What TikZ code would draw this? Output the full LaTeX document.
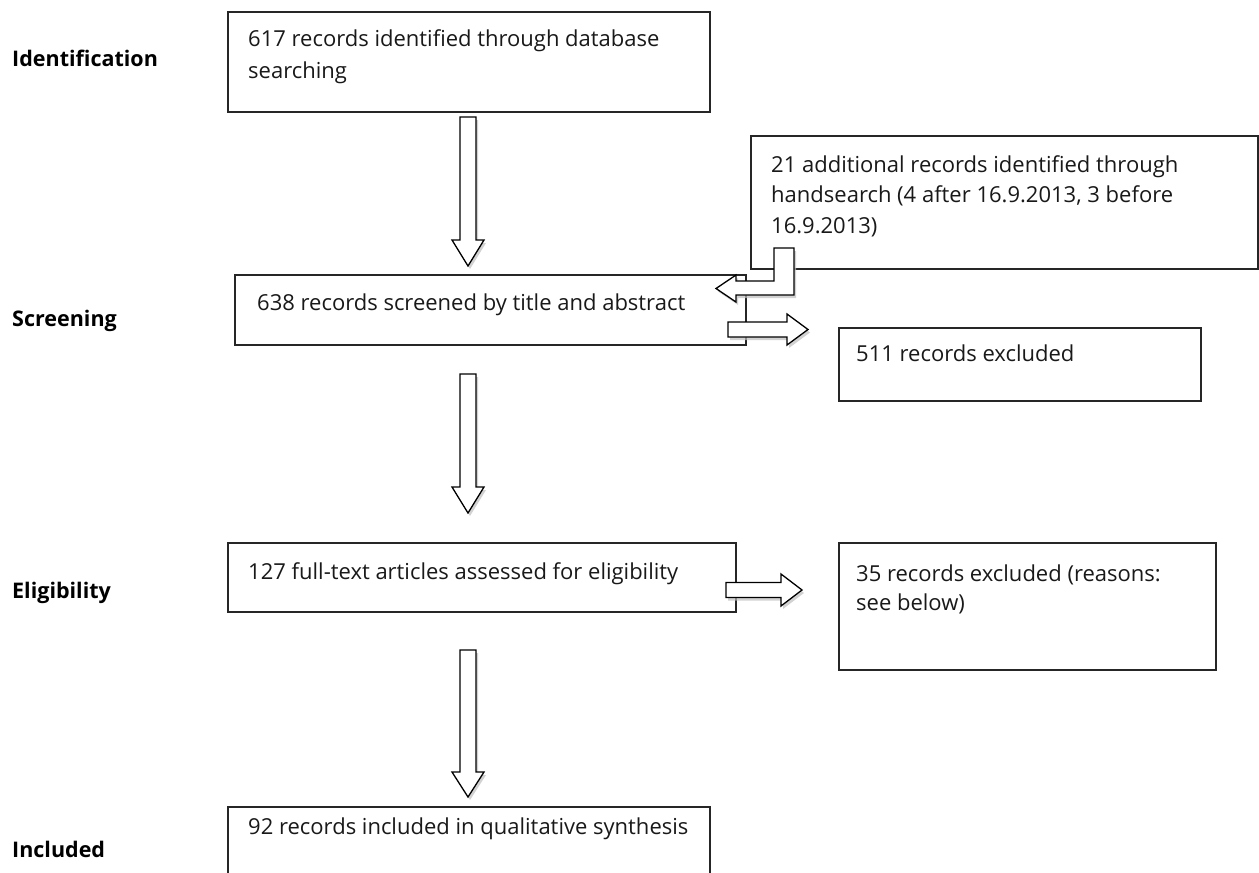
\documentclass[tikz,border=0pt]{standalone}
\usepackage{fontspec}
\setmainfont{Open Sans}
\usetikzlibrary{shadows}
\begin{document}
\begin{tikzpicture}[x=1pt,y=-1pt,
  box/.style={draw=black!85, line width=1.5pt, fill=white, inner sep=0pt, anchor=north west},
  body/.style={font=\fontsize{22}{30}\selectfont, anchor=base west, inner sep=0pt, text=black!90},
  lab/.style={font=\bfseries\fontsize{21.5}{26}\selectfont, anchor=base west, inner sep=0pt},
  barrow/.style={draw=black, line width=1.3pt, fill=white, line join=miter,
     drop shadow={shadow xshift=2pt, shadow yshift=-3pt, fill=black!25, opacity=.7}}]
\useasboundingbox (0,0) rectangle (1259,873);
\clip (0,0) rectangle (1259,873);

% phase labels
\node[lab] (lid) at (12,66) {Identification};
\node[lab] (lsc) at (12,326) {Screening};
\node[lab] (lel) at (12,598) {Eligibility};
\node[lab] (lin) at (12,857) {Included};

% boxes
\node[box, minimum width=482pt, minimum height=100pt] (ident) at (227,11) {};
\node[box, minimum width=507pt, minimum height=133pt] (hand) at (750,135) {};
\node[box, minimum width=511pt, minimum height=70pt] (screen) at (234,274) {};
\node[box, minimum width=362pt, minimum height=73pt] (ex1) at (838,327) {};
\node[box, minimum width=377pt, minimum height=127pt] (ex2) at (838,542) {};
\node[box, minimum width=508pt, minimum height=69pt] (elig) at (227,542) {};
\node[box, minimum width=482pt, minimum height=100pt] (incl) at (227,806) {};

% texts
\node[body] (ident1) at (248,46.5) {617 records identified through database};
\node[body] (ident2) at (248,78) {searching};
\node[body] (hand1) at (771,172) {21 additional records identified through};
\node[body] (hand2) at (771,202.5) {handsearch (4 after 16.9.2013, 3 before};
\node[body] (hand3) at (771,233) {16.9.2013)};
\node[body] (screen1) at (257,310) {638 records screened by title and abstract};
\node[body] (ex1t) at (856,361) {511 records excluded};
\node[body] (elig1) at (248,579) {127 full-text articles assessed for eligibility};
\node[body] (ex2a) at (856,581) {35 records excluded (reasons:};
\node[body] (ex2b) at (856,610) {see below)};
\node[body] (incl1) at (248,834) {92 records included in qualitative synthesis};

% down arrows
\draw[barrow] (460,117) -- (476,117) -- (476,240) -- (484,240) -- (468,266) -- (452,240) -- (460,240) -- cycle;
\draw[barrow] (460,374) -- (476,374) -- (476,487) -- (484,487) -- (468,513) -- (452,487) -- (460,487) -- cycle;
\draw[barrow] (460,650) -- (476,650) -- (476,772) -- (484,772) -- (468,797) -- (452,772) -- (460,772) -- cycle;

% bent arrow from handsearch to screening
\draw[barrow] (774,248) -- (794,248) -- (794,295) -- (736,295) -- (736,302) -- (716,288.5) -- (736,275) -- (736,281) -- (774,281) -- cycle;

% right arrows
\draw[barrow] (728,322) -- (787,322) -- (787,314) -- (808,329.5) -- (787,345) -- (787,337) -- (728,337) -- cycle;
\draw[barrow] (726,582.5) -- (781,582.5) -- (781,574) -- (802,590) -- (781,606) -- (781,597.5) -- (726,597.5) -- cycle;
\end{tikzpicture}
\end{document}
